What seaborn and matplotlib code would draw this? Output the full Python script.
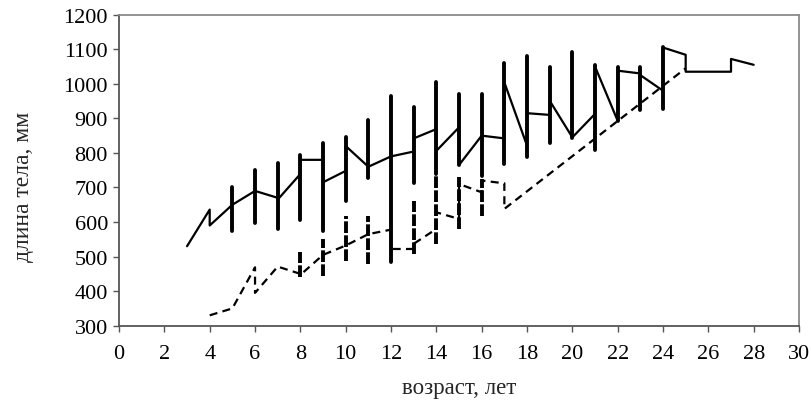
import numpy as np
import pandas as pd
import matplotlib
matplotlib.use("Agg")
import matplotlib.pyplot as plt
import seaborn as sns

# Total body length by age: the line passes each age entering at one value
# and leaving at another; thick bars show the min-max range at that age.
ages_all = [3, 4, 5, 6, 7, 8, 9, 10, 11, 12, 13, 14, 15, 16, 17, 18, 19, 20,
            21, 22, 23, 24, 25, 27, 28]
enter_all = [530, 636, 650, 690, 670, 739, 780, 748, 760, 790, 804, 869, 874,
             850, 842, 821, 910, 845, 913, 893, 1030, 980, 1084, 1035, 1055]
leave_all = [530, 590, 650, 690, 665, 780, 715, 820, 760, 790, 842, 806, 765,
             850, 1004, 915, 951, 845, 1050, 1038, 1025, 1105, 1035, 1072, 1055]
low_all = [np.nan, np.nan, 575, 597, 580, 607, 575, 660, 727, 485, 713, 739,
           765, 734, 767, 787, 829, 842, 808, 893, 924, 927, np.nan, np.nan, np.nan]
high_all = [np.nan, np.nan, 701, 752, 771, 794, 829, 847, 895, 966, 932, 1006,
            970, 970, 1060, 1080, 1050, 1093, 1055, 1050, 1050, 1106, np.nan, np.nan, np.nan]

# Second group (dashed)
ages_sub = [4, 5, 6, 7, 8, 9, 10, 11, 12, 13, 14, 15, 16, 17, 25]
enter_sub = [330, 350, 469, 471, 450, 505, 532, 565, 578, 522, 580, 609, 686, 712, 1045]
leave_sub = [330, 350, 395, 471, 447, 505, 532, 565, 522, 537, 628, 710, 720, 638, 1045]
low_sub = [np.nan, np.nan, np.nan, np.nan, 440, 443, 488, 478, np.nan, 508, 537,
           580, 618, np.nan, np.nan]
high_sub = [np.nan, np.nan, np.nan, np.nan, 512, 551, 618, 618, np.nan, 660, 735,
            730, 725, np.nan, np.nan]

x_ticks = list(range(0, 31, 2))
y_ticks = list(range(300, 1201, 100))


def path_frame(ages, enter, leave):
    rows = []
    for i, a in enumerate(ages):
        rows.append((i * 2, a, enter[i]))
        rows.append((i * 2 + 1, a, leave[i]))
    return pd.DataFrame(rows, columns=["order", "age", "length"])


def range_frame(ages, low, high):
    rows = []
    for a, lo, hi in zip(ages, low, high):
        if np.isnan(lo):
            continue
        rows.append((a, lo))
        rows.append((a, hi))
    return pd.DataFrame(rows, columns=["age", "length"])


sns.set_style("ticks")
plt.rcParams["font.family"] = ["Liberation Serif", "DejaVu Serif"]

fig = plt.figure(figsize=(8.12, 4.10), dpi=100)
ax = fig.add_axes([0.1466, 0.2032, 0.8374, 0.7585])

path_all = path_frame(ages_all, enter_all, leave_all)
path_sub = path_frame(ages_sub, enter_sub, leave_sub)
bars_all = range_frame(ages_all, low_all, high_all)
bars_sub = range_frame(ages_sub, low_sub, high_sub)

sns.lineplot(data=path_all, x="age", y="length", sort=False, estimator=None,
             color="black", lw=1.6, ax=ax)
sns.lineplot(data=bars_all, x="age", y="length", units="age", estimator=None,
             color="black", lw=2.8, ax=ax)

sns.lineplot(data=path_sub, x="age", y="length", sort=False, estimator=None,
             color="black", lw=1.6, ax=ax)
ax.lines[-1].set_linestyle((0, (3.6, 2.4)))
sns.lineplot(data=bars_sub, x="age", y="length", units="age", estimator=None,
             color="black", lw=2.8, ax=ax)
for ln in ax.lines[-len(bars_sub["age"].unique()):]:
    ln.set_linestyle((0, (3.0, 0.6)))

ax.set_xlim(0, 30)
ax.set_ylim(300, 1200)
ax.set_xticks(x_ticks)
ax.set_yticks(y_ticks)
ax.tick_params(axis="both", direction="out", length=4, width=1, color="#555555",
               labelsize=16, labelcolor="black")
ax.tick_params(axis="x", pad=9)
ax.tick_params(axis="y", pad=4)
for side in ["left", "bottom"]:
    ax.spines[side].set_color("#555555")
    ax.spines[side].set_linewidth(1.3)
for side in ["top", "right"]:
    ax.spines[side].set_visible(True)
    ax.spines[side].set_color("#8a8a8a")
    ax.spines[side].set_linewidth(1.3)

ax.set_xlabel("возраст, лет", fontsize=16.5, labelpad=10)
ax.set_ylabel("длина тела, мм", fontsize=17)
ax.yaxis.set_label_coords(-0.125, 0.45)

fig.savefig("out.png", dpi=100)
